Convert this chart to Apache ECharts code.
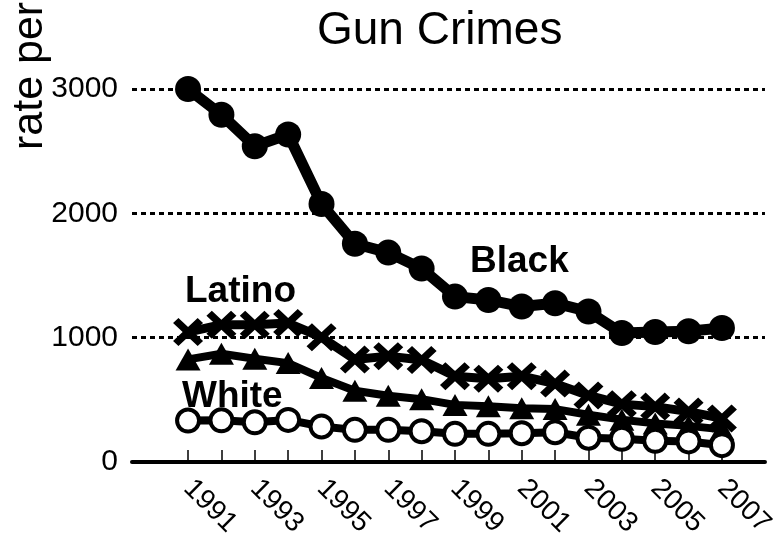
<!DOCTYPE html>
<html>
<head>
<meta charset="utf-8">
<script src="https://cdn.jsdelivr.net/npm/echarts@6/dist/echarts.min.js"></script>
<style>
html,body{margin:0;padding:0;background:#fff;}
#chart{width:778px;height:540px;}
</style>
</head>
<body>
<div id="chart"></div>
<script>
var years = [1991,1992,1993,1994,1995,1996,1997,1998,1999,2000,2001,2002,2003,2004,2005,2006,2007];
var labelYears = [1991,1993,1995,1997,1999,2001,2003,2005,2007];
var yTicks = [0,1000,2000,3000];
var black  = [3000,2793,2540,2634,2075,1755,1684,1556,1330,1303,1250,1277,1210,1037,1045,1051,1077];
var latino = [1045,1104,1104,1117,1003,824,851,820,690,670,690,630,535,465,445,405,350];
var other  = [825,870,830,795,676,572,532,505,459,447,431,425,380,340,310,290,262];
var white  = [333,335,319,338,285,258,258,247,226,226,231,239,195,186,170,165,135];

function pairs(vals){ return years.map(function(y,i){ return [y, vals[i]]; }); }

var FONT = '"Liberation Sans", Arial, Helvetica, sans-serif';
var xPath = 'path://M0,1.8L1.8,0L5,3.2L8.2,0L10,1.8L6.8,5L10,8.2L8.2,10L5,6.8L1.8,10L0,8.2L3.2,5Z';

var chart = echarts.init(document.getElementById('chart'));
chart.setOption({
  animation: false,
  backgroundColor: '#ffffff',
  grid: {left: 132, right: 0, top: 89, bottom: 76, containLabel: false},
  xAxis: {
    type: 'value',
    min: 1989.32,
    max: 2008.29,
    axisLine: {show: true, lineStyle: {color: '#000', width: 4}},
    axisTick: {show: true, inside: true, length: 12, customValues: years, lineStyle: {color: '#000', width: 1.5}},
    axisLabel: {
      customValues: labelYears,
      rotate: -45,
      margin: 22,
      fontSize: 28,
      color: '#000',
      fontFamily: FONT,
      formatter: function(v){ return String(v); }
    },
    splitLine: {show: false}
  },
  yAxis: {
    type: 'value',
    min: 0,
    max: 3000,
    interval: 1000,
    axisLine: {show: false},
    axisTick: {show: false},
    axisLabel: {fontSize: 30, color: '#000', fontFamily: FONT, margin: 14,
      customValues: yTicks,
      formatter: function(v){ return String(v); }},
    splitLine: {show: true, lineStyle: {color: '#000', width: 3, type: [5,4]}}
  },
  series: [
    {
      name: 'Other', type: 'line', data: pairs(other),
      symbol: 'triangle', symbolSize: [25, 22],
      lineStyle: {color: '#000', width: 8},
      itemStyle: {color: '#000', borderWidth: 0}
    },
    {
      name: 'Latino', type: 'line', data: pairs(latino),
      symbol: xPath, symbolSize: [30, 28],
      lineStyle: {color: '#000', width: 9},
      itemStyle: {color: '#000', borderWidth: 0}
    },
    {
      name: 'White', type: 'line', data: pairs(white),
      symbol: 'circle', symbolSize: 22,
      lineStyle: {color: '#000', width: 8},
      itemStyle: {color: '#fff', borderColor: '#000', borderWidth: 4}
    },
    {
      name: 'Black', type: 'line', data: pairs(black),
      symbol: 'circle', symbolSize: 26,
      lineStyle: {color: '#000', width: 11},
      itemStyle: {color: '#000', borderWidth: 0}
    }
  ],
  graphic: [
    {type: 'text', left: 317, top: 8, style: {text: 'Gun Crimes', font: '46px ' + FONT, fill: '#000'}},
    {type: 'text', x: 30, y: 150, rotation: Math.PI/2,
      style: {text: 'rate per', font: '43px ' + FONT, fill: '#000', align: 'left', verticalAlign: 'middle'}},
    {type: 'text', x: 470, y: 262, style: {text: 'Black', font: 'bold 37px ' + FONT, fill: '#000', align: 'left', verticalAlign: 'middle'}},
    {type: 'text', x: 185, y: 292, style: {text: 'Latino', font: 'bold 37px ' + FONT, fill: '#000', align: 'left', verticalAlign: 'middle'}},
    {type: 'text', x: 182, y: 397, style: {text: 'White', font: 'bold 37px ' + FONT, fill: '#000', align: 'left', verticalAlign: 'middle'}}
  ]
});
</script>
</body>
</html>
